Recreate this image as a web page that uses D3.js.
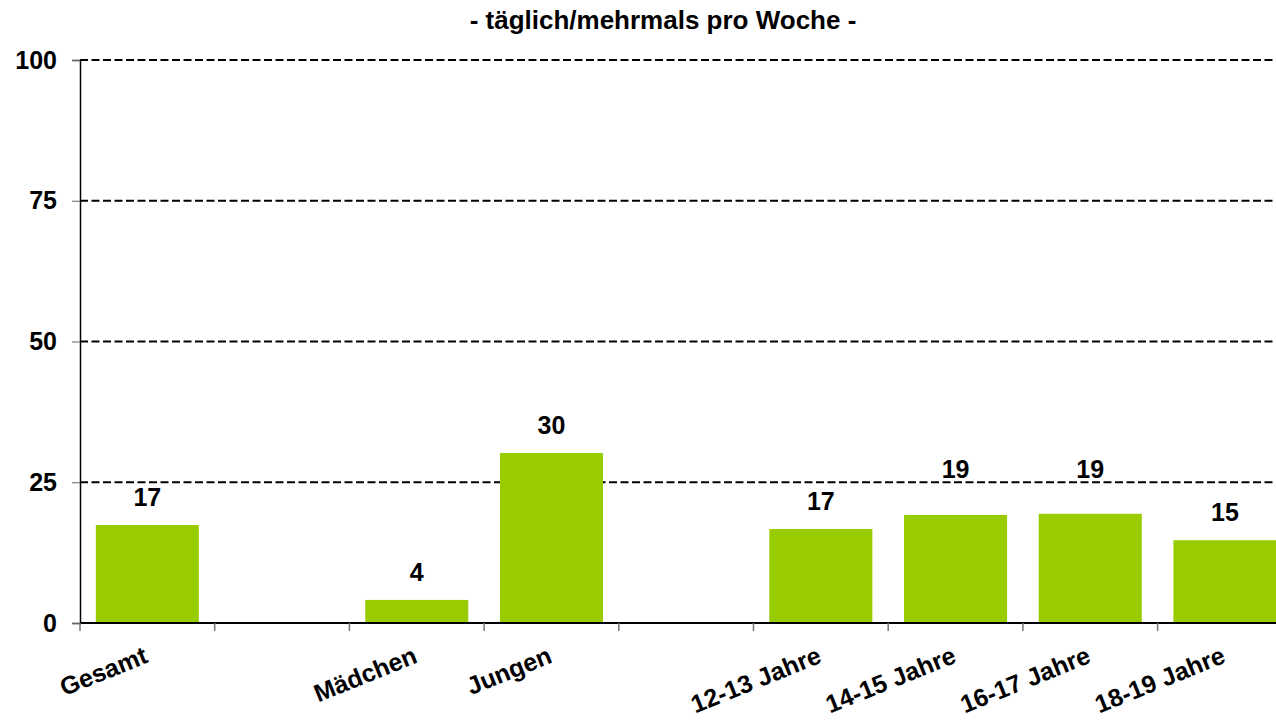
<!DOCTYPE html>
<html>
<head>
<meta charset="utf-8">
<script src="https://cdn.jsdelivr.net/npm/d3@7"></script>
<style>
  html, body { margin: 0; padding: 0; background: #fff; overflow: hidden; }
  text { font-family: "Liberation Sans", Arial, sans-serif; font-weight: bold; fill: #000; }
</style>
</head>
<body>
<svg id="chart"></svg>
<script>
const title = '- täglich/mehrmals pro Woche -'
// null = empty slot between groups
const categories = ['Gesamt', null, 'Mädchen', 'Jungen', null, '12-13 Jahre', '14-15 Jahre', '16-17 Jahre', '18-19 Jahre']
const values = [17.4, null, 4.1, 30.2, null, 16.7, 19.2, 19.4, 14.7]
const yTicks = [0, 25, 50, 75, 100]

const width = 1276
const height = 721
const paddingLeft = 80
const paddingTop = 60
const plotBottom = 623
const slotWidth = 134.7
const labelSize = 25

const svg = d3.select('#chart')
              .attr('width', width)
              .attr('height', height)

const data = categories.map((c, i) => ({ index: i, label: c, value: values[i] }))

const xScale = d3.scaleBand()
                 .domain(data.map(d => d.index))
                 .range([paddingLeft, paddingLeft + slotWidth * categories.length])
                 .paddingInner(0.235)
                 .paddingOuter(0.1175)

const yScale = d3.scaleLinear()
                 .domain([0, 100])
                 .range([plotBottom, paddingTop])

const step = xScale.step()
const gridYs = yTicks.filter(t => t > 0).map(t => yScale(t))

// dashed gridlines
svg.append('g')
   .selectAll('line')
   .data(yTicks.filter(t => t > 0))
   .join('line')
   .attr('x1', paddingLeft)
   .attr('x2', paddingLeft + step * categories.length)
   .attr('y1', d => yScale(d))
   .attr('y2', d => yScale(d))
   .attr('stroke', '#000')
   .attr('stroke-width', 2)
   .attr('stroke-dasharray', '8,3.5')

// bars
svg.append('g')
   .selectAll('rect')
   .data(data.filter(d => d.value !== null))
   .join('rect')
   .attr('x', d => xScale(d.index))
   .attr('width', xScale.bandwidth())
   .attr('y', d => yScale(d.value))
   .attr('height', d => yScale(0) - yScale(d.value))
   .attr('fill', '#99cc00')

// value labels, pushed above a gridline when they would sit on it
const labelBaseline = v => {
  let b = yScale(v) - 19
  const hit = gridYs.find(g => g < b + 2 && g > b - 19)
  if (hit !== undefined) b = hit - 4
  return b
}

svg.append('g')
   .selectAll('text')
   .data(data.filter(d => d.value !== null))
   .join('text')
   .attr('x', d => xScale(d.index) + xScale.bandwidth() / 2)
   .attr('y', d => labelBaseline(d.value))
   .attr('text-anchor', 'middle')
   .style('font-size', `${labelSize}px`)
   .text(d => d3.format('.0f')(d.value))

// y axis
const yAxis = d3.axisLeft(yScale)
                .tickValues(yTicks)
                .tickSize(8)
                .tickFormat(d => d)
const yG = svg.append('g')
              .attr('transform', `translate(${paddingLeft}, 0)`)
              .call(yAxis)
yG.select('.domain').attr('stroke', '#000').attr('stroke-width', 1.5)
yG.selectAll('.tick line').attr('stroke', '#666')
yG.selectAll('.tick text')
  .attr('x', -23)
  .style('font-size', `${labelSize}px`)
  .style('font-family', '"Liberation Sans", Arial, sans-serif')
  .style('font-weight', 'bold')

// x axis line and boundary ticks
svg.append('line')
   .attr('x1', paddingLeft)
   .attr('x2', paddingLeft + step * categories.length)
   .attr('y1', plotBottom)
   .attr('y2', plotBottom)
   .attr('stroke', '#000')
   .attr('stroke-width', 2)

svg.append('g')
   .selectAll('line')
   .data(d3.range(categories.length + 1))
   .join('line')
   .attr('x1', i => paddingLeft + i * step)
   .attr('x2', i => paddingLeft + i * step)
   .attr('y1', plotBottom)
   .attr('y2', plotBottom + 8)
   .attr('stroke', '#777')
   .attr('stroke-width', 1.5)

// category labels
svg.append('g')
   .selectAll('text')
   .data(data.filter(d => d.label !== null))
   .join('text')
   .attr('transform', d => `translate(${xScale(d.index) + xScale.bandwidth() / 2 + 2}, 662)rotate(-22)`)
   .attr('text-anchor', 'end')
   .style('font-size', `${labelSize}px`)
   .text(d => d.label)

// title
svg.append('text')
   .attr('x', 663)
   .attr('y', 29)
   .attr('text-anchor', 'middle')
   .style('font-size', '26px')
   .text(title)
</script>
</body>
</html>
